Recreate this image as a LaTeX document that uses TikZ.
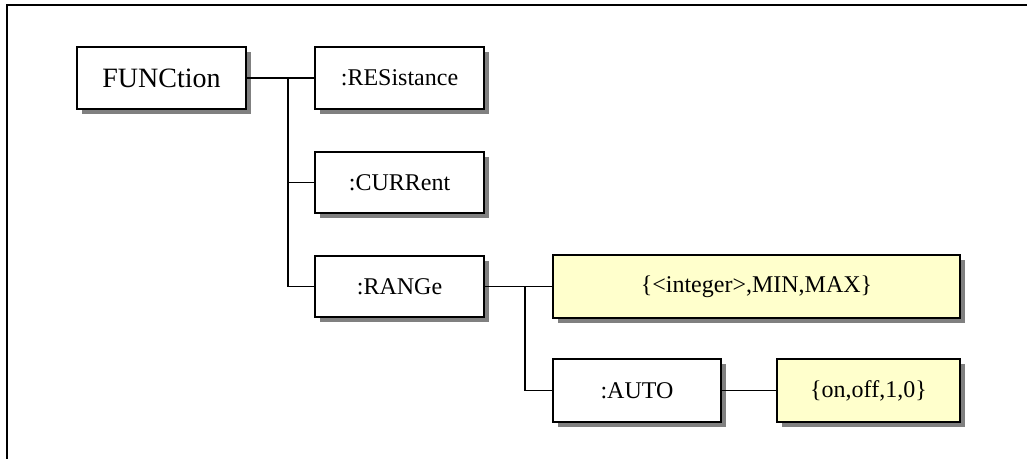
\documentclass[tikz,border=0pt]{standalone}
\usepackage{fontspec}
\setmainfont{Liberation Serif}
\usetikzlibrary{shadows}
\definecolor{valfill}{RGB}{255,255,204}
\tikzset{
  cmdbox/.style={draw=black, line width=1.2pt, fill=white, inner sep=0pt,
    align=center, font=\fontsize{18}{20}\selectfont,
    drop shadow={shadow xshift=3.75pt, shadow yshift=-3.75pt, fill=black!50, opacity=1}},
  valbox/.style={cmdbox, fill=valfill},
  conn/.style={line width=0.9pt, black},
  frameline/.style={line width=1.5pt, black}
}
\begin{document}
\begin{tikzpicture}[x=0.75pt, y=-0.75pt]
\useasboundingbox (0,0) rectangle (1027,459);
\draw[frameline] (7,459) -- (7,5) -- (1027,5);

\node[cmdbox, minimum width=126.75pt, minimum height=46.5pt, font=\fontsize{21}{24}\selectfont] (fn) at (161.5,78) {FUNCtion};
\node[cmdbox, minimum width=126.75pt, minimum height=46.5pt] (res) at (399.5,78) {:RESistance};
\node[cmdbox, minimum width=126.75pt, minimum height=45.75pt] (cur) at (399.5,182.5) {:CURRent};
\node[cmdbox, minimum width=126.75pt, minimum height=45.75pt] (rng) at (399.5,286.5) {:RANGe};
\node[valbox, minimum width=305.25pt, minimum height=47.25pt] (int) at (756.5,286.5) {\{<integer>,MIN,MAX\}};
\node[cmdbox, minimum width=126pt, minimum height=47.25pt] (auto) at (637,390.5) {:AUTO};
\node[valbox, minimum width=137.25pt, minimum height=47.25pt] (onoff) at (868.5,390.5) {\{on,off,1,0\}};

\coordinate (j1) at (288,78);
\coordinate (j2) at (525,286.5);
\draw[conn] (fn.east) -- (res.west);
\draw[conn] (j1) |- (cur.west);
\draw[conn] (j1) |- (rng.west);
\draw[conn] (rng.east) -- (int.west);
\draw[conn] (j2) |- (auto.west);
\draw[conn] (auto.east) -- (onoff.west);
\end{tikzpicture}
\end{document}
